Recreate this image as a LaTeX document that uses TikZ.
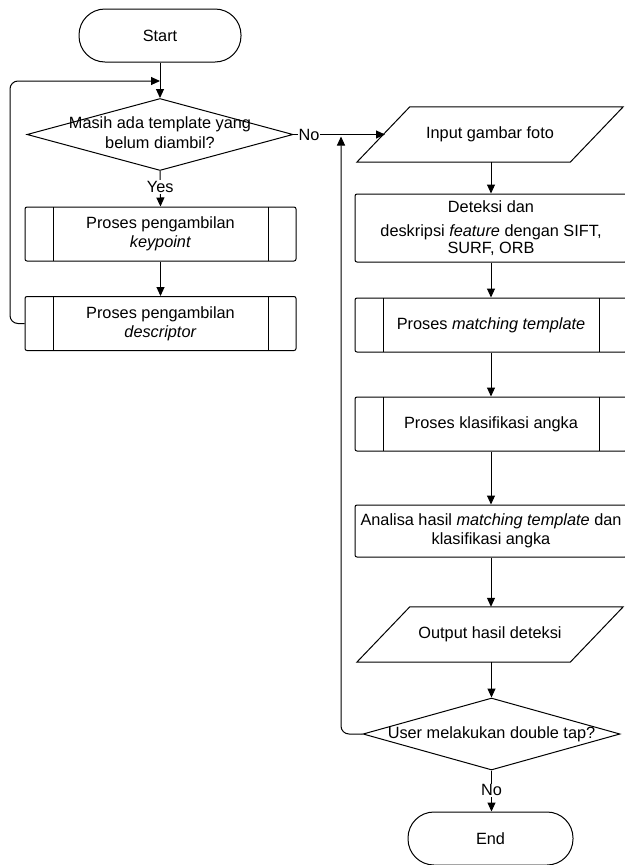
\documentclass[tikz,border=0pt]{standalone}
\usepackage{fontspec}
\setmainfont{Liberation Sans}
\usetikzlibrary{shapes.geometric,arrows.meta,calc}
\newcommand\fsz{\fontsize{16.3}{19}\selectfont}
\begin{document}
\begin{tikzpicture}[x=1pt,y=-1pt,
  every node/.style={font=\fsz},
  base/.style={draw, line width=1pt, align=center, inner sep=0pt},
  term/.style={base, minimum height=53pt, rounded corners=26pt},
  proc/.style={base, minimum width=272pt, rounded corners=2pt},
  sub/.style={base, rounded corners=2pt, minimum height=54pt,
    path picture={
      \draw[line width=1pt] ([xshift=28pt]path picture bounding box.north west) -- ([xshift=28pt]path picture bounding box.south west);
      \draw[line width=1pt] ([xshift=-28pt]path picture bounding box.north east) -- ([xshift=-28pt]path picture bounding box.south east);}},
  decision/.style={base, shape=diamond, minimum height=72pt},
  io/.style={align=center, inner sep=0pt, minimum width=266pt, minimum height=55pt},
  lbl/.style={fill=white, inner sep=1pt},
  arr/.style={line width=1pt, -{Triangle[length=9pt,width=8pt]}},
  ln/.style={line width=1pt}
]
\useasboundingbox (0,0) rectangle (624,865);

% left column
\node[term, minimum width=162pt] (start) at (160,35.5) {Start};
\node[decision, minimum width=266pt] (d1) at (160,134.5) {\makebox[0pt]{\raisebox{-4pt}{\begin{tabular}{@{}c@{}}Masih ada template yang\\[1pt] belum diambil?\end{tabular}}}};
\node[sub, minimum width=271pt] (kp) at (160.5,234) {Proses pengambilan\\[0pt]\textit{keypoint}};
\node[sub, minimum width=271pt] (desc) at (160.5,323.5) {Proses pengambilan\\[0pt]\textit{descriptor}};

% right column
\node[io] (in) at (490,134.5) {Input gambar foto};
\draw[ln] (in.south west) -- ($(in.north west)+(53,0)$) -- (in.north east) -- ($(in.south east)+(-53,0)$) -- cycle;
\node[proc, minimum height=68pt] (det) at (491,228) {Deteksi dan\\[5pt]deskripsi \textit{feature} dengan SIFT,\\[-2pt]SURF, ORB};
\node[sub, minimum width=272pt] (mt) at (491,325) {Proses \textit{matching template}};
\node[sub, minimum width=272pt] (kl) at (491,424) {Proses klasifikasi angka};
\node[proc, minimum height=52pt] (an) at (491,531) {Analisa hasil \textit{matching template} dan\\[0pt]klasifikasi angka};
\node[io] (out) at (490,634.5) {Output hasil deteksi};
\draw[ln] (out.south west) -- ($(out.north west)+(53,0)$) -- (out.north east) -- ($(out.south east)+(-53,0)$) -- cycle;
\node[decision, minimum width=257pt] (d2) at (491.5,734) {\makebox[0pt]{User melakukan double tap?}};
\node[term, minimum width=165pt] (end) at (490.5,838.5) {End};

% junction coordinates
\coordinate (j1) at (160,81);
\coordinate (inL) at (385,134.5);
\coordinate (j2) at (341,134.5);

% connectors
\draw[arr] (start) -- (d1.north);
\draw[arr] (d1.south) -- node[lbl, pos=0.45] {Yes} (kp.north);
\draw[arr] (kp) -- (desc);
\draw[arr, rounded corners=8pt] (desc.west) -- (10,323.5) -- (10,81) -- (j1);
\draw[arr] (d1.east) -- node[lbl, pos=0.17] {No} (inL);
\draw[arr] (in.south -| det.north) -- (det.north);
\draw[arr] (det) -- (mt);
\draw[arr] (mt) -- (kl);
\draw[arr] (kl) -- (an);
\draw[arr] (an.south) -- (an.south |- out.north);
\draw[arr] (out.south -| d2.north) -- (d2.north);
\draw[arr, rounded corners=8pt, shorten >=2pt] (d2.west) -- (341,734) -- (j2);
\draw[arr] (d2.south) -- node[lbl, pos=0.48] {No} (end.north -| d2.south);
\end{tikzpicture}
\end{document}
